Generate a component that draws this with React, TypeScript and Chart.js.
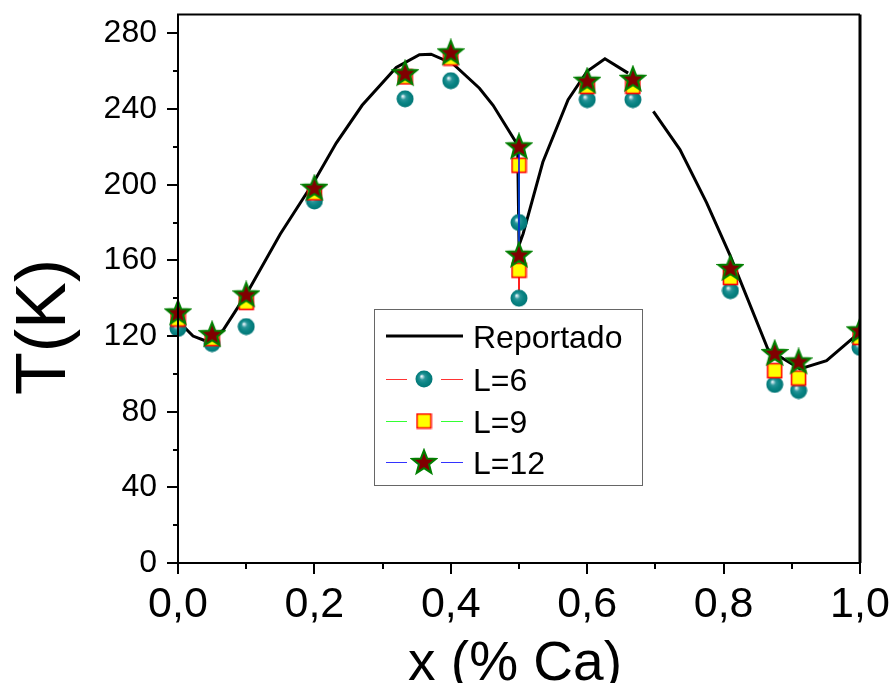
import React, { useEffect, useRef } from "react";
import { Chart, registerables } from "chart.js";

Chart.register(...registerables);

// Reported curve (null = gap in the drawn line)
const repX = [0, 0.022, 0.04, 0.066, 0.1, 0.15, 0.2, 0.232, 0.27, 0.32, 0.354, 0.371, 0.403, 0.442, 0.462, 0.498, 0.5, 0.506, 0.535, 0.572, 0.6, 0.626, 0.66, 0.68, 0.697, 0.736, 0.775, 0.809, 0.865, 0.912, 0.951, 0.99, 1.0];
const repY = [128, 120, 117.5, 123, 142, 174, 202, 222, 242, 262, 268.7, 269, 264, 251, 242, 221, 168, 174, 212, 245, 260, 266.6, 259, null, 238.8, 218.6, 190.5, 163, 113, 102.6, 107, 119, 122];

// Simulated series
const simX = [0, 0.05, 0.1, 0.2, 0.333, 0.4, 0.5, 0.5, 0.6, 0.667, 0.81, 0.875, 0.91, 1.0];
const L6 = [124, 116, 125, 191.4, 245.4, 255, 180, 140, 245, 245, 144, 94.4, 91.2, 114];
const L9 = [129, 118.6, 137.8, 195.7, 257, 267, 210.3, 154.8, 252, 252, 151, 101.7, 97.8, 119.3];
const L12 = [132.5, 121, 142, 198.4, 259, 270, 220.3, 163, 255, 256, 156, 111, 106.6, 123];

const yMajorTicks = [0, 40, 80, 120, 160, 200, 240, 280];
const yMinorTicks = [20, 60, 100, 140, 180, 220, 260];
const xMajorTicks = [0, 0.2, 0.4, 0.6, 0.8, 1.0];
const xMinorTicks = [0.1, 0.3, 0.5, 0.7, 0.9];

const legendLabels = ["Reportado", "L=6", "L=9", "L=12"];
const xTitle = "x (% Ca)";
const yTitle = "T(K)";

const FONT = "'Liberation Sans', Arial, Helvetica, sans-serif";

function makeSphere(d: number) {
  const c = document.createElement("canvas");
  c.width = d; c.height = d;
  const g = c.getContext("2d")!;
  const r = d / 2;
  const grad = g.createRadialGradient(r * 0.72, r * 0.68, 0, r, r, r);
  grad.addColorStop(0, "#ffffff");
  grad.addColorStop(0.12, "#b5dbe2");
  grad.addColorStop(0.32, "#2a9599");
  grad.addColorStop(0.6, "#0b8585");
  grad.addColorStop(1, "#007474");
  g.fillStyle = grad;
  g.beginPath();
  g.arc(r, r, r - 0.5, 0, Math.PI * 2);
  g.fill();
  return c;
}

function makeSquare(d: number) {
  const c = document.createElement("canvas");
  c.width = d; c.height = d;
  const g = c.getContext("2d")!;
  g.fillStyle = "#ffff00";
  g.strokeStyle = "#ff0000";
  g.lineWidth = 1.6;
  g.fillRect(1.5, 1.5, d - 3, d - 3);
  g.strokeRect(1.5, 1.5, d - 3, d - 3);
  return c;
}

function makeStar(d: number) {
  const c = document.createElement("canvas");
  c.width = d; c.height = d;
  const g = c.getContext("2d")!;
  const cx = d / 2, cy = d / 2 + 0.8;
  const R = d / 2 - 1.5, ri = R * 0.43;
  g.beginPath();
  for (let i = 0; i < 10; i++) {
    const rad = i % 2 === 0 ? R : ri;
    const a = -Math.PI / 2 + (i * Math.PI) / 5;
    const px = cx + rad * Math.cos(a), py = cy + rad * Math.sin(a);
    if (i === 0) g.moveTo(px, py); else g.lineTo(px, py);
  }
  g.closePath();
  g.fillStyle = "#800000";
  g.fill();
  g.strokeStyle = "#008000";
  g.lineWidth = 2;
  g.lineJoin = "miter";
  g.stroke();
  return c;
}

export default function App() {
  const ref = useRef<HTMLCanvasElement | null>(null);

  useEffect(() => {
    document.body.style.margin = "0";
    const canvas = ref.current!;
    const sphere = makeSphere(18);
    const square = makeSquare(17);
    const star = makeStar(28);

    const vertOnly = (color: string) => ({
      borderColor: (ctx: any) =>
        ctx.p0.parsed.x === ctx.p1.parsed.x ? color : "rgba(0,0,0,0)",
    });

    const framePlugin = {
      id: "framePlugin",
      afterDraw(chart: any) {
        const { ctx, chartArea: a, scales } = chart;
        const xs = scales.x, ys = scales.y;
        ctx.save();
        ctx.strokeStyle = "#000";
        ctx.lineWidth = 2;
        ctx.beginPath();
        ctx.moveTo(a.left, a.bottom); ctx.lineTo(a.left, a.top);
        ctx.lineTo(a.right, a.top);
        ctx.moveTo(a.left, a.bottom); ctx.lineTo(a.right, a.bottom);
        ctx.stroke();
        ctx.lineWidth = 3;
        ctx.beginPath();
        ctx.moveTo(a.right, a.top); ctx.lineTo(a.right, a.bottom);
        ctx.stroke();
        ctx.lineWidth = 2;
        ctx.beginPath();
        yMajorTicks.forEach((v) => { const y = Math.round(ys.getPixelForValue(v)); ctx.moveTo(a.left, y); ctx.lineTo(a.left - 11, y); });
        yMinorTicks.forEach((v) => { const y = Math.round(ys.getPixelForValue(v)); ctx.moveTo(a.left, y); ctx.lineTo(a.left - 5, y); });
        xMajorTicks.forEach((v) => { const x = Math.round(xs.getPixelForValue(v)); ctx.moveTo(x, a.bottom); ctx.lineTo(x, a.bottom + 11); });
        xMinorTicks.forEach((v) => { const x = Math.round(xs.getPixelForValue(v)); ctx.moveTo(x, a.bottom); ctx.lineTo(x, a.bottom + 6); });
        ctx.stroke();

        // axis titles
        ctx.fillStyle = "#000";
        ctx.textAlign = "center";
        ctx.textBaseline = "alphabetic";
        ctx.font = `55px ${FONT}`;
        ctx.fillText(xTitle, 515, 680);
        ctx.save();
        ctx.translate(65, 327);
        ctx.rotate(-Math.PI / 2);
        ctx.font = `70px ${FONT}`;
        ctx.fillText(yTitle, 0, 0);
        ctx.restore();

        // legend
        const bx = 374.5, by = 309.5, bw = 268, bh = 176;
        ctx.fillStyle = "#fff";
        ctx.fillRect(bx, by, bw, bh);
        ctx.strokeStyle = "#666";
        ctx.lineWidth = 1;
        ctx.strokeRect(bx, by, bw, bh);
        const rows = [336, 379, 421, 462];
        const lineColors = ["#000", "#ff3333", "#33ff33", "#3333ff"];
        const marks = [null, sphere, square, star];
        rows.forEach((ry, i) => {
          if (i === 0) {
            ctx.strokeStyle = "#000";
            ctx.lineWidth = 3;
            ctx.beginPath(); ctx.moveTo(386, ry); ctx.lineTo(463, ry); ctx.stroke();
          } else {
            ctx.strokeStyle = lineColors[i];
            ctx.lineWidth = 1;
            ctx.beginPath();
            ctx.moveTo(386, ry + 0.5); ctx.lineTo(407, ry + 0.5);
            ctx.moveTo(441, ry + 0.5); ctx.lineTo(463, ry + 0.5);
            ctx.stroke();
            const m = marks[i]!;
            ctx.drawImage(m, 424 - m.width / 2, ry - m.height / 2);
          }
          ctx.fillStyle = "#000";
          ctx.textAlign = "left";
          ctx.font = `32px ${FONT}`;
          ctx.fillText(legendLabels[i], 473, ry + 11.5);
        });
        ctx.restore();
      },
    };

    const chart = new Chart(canvas, {
      type: "line",
      data: {
        datasets: [
          {
            label: legendLabels[0],
            data: repX.map((x, i) => ({ x, y: repY[i] })),
            borderColor: "#000",
            borderWidth: 3,
            pointRadius: 0,
            spanGaps: false,
            tension: 0,
            order: 4,
          },
          {
            label: legendLabels[1],
            data: simX.map((x, i) => ({ x, y: L6[i] })),
            borderColor: "#ff0000",
            borderWidth: 1,
            segment: vertOnly("#ff0000"),
            pointStyle: sphere,
            pointRadius: 9,
            order: 3,
            clip: { left: 20, top: 20, right: 0, bottom: 20 },
          },
          {
            label: legendLabels[2],
            data: simX.map((x, i) => ({ x, y: L9[i] })),
            borderColor: "#00ff00",
            borderWidth: 1,
            segment: vertOnly("#00ff00"),
            pointStyle: square,
            pointRadius: 8,
            order: 2,
            clip: { left: 20, top: 20, right: 0, bottom: 20 },
          },
          {
            label: legendLabels[3],
            data: simX.map((x, i) => ({ x, y: L12[i] })),
            borderColor: "#0000ff",
            borderWidth: 1.5,
            segment: vertOnly("#0000ff"),
            pointStyle: star,
            pointRadius: 13,
            order: 1,
            clip: { left: 20, top: 20, right: 0, bottom: 20 },
          },
        ] as any,
      },
      options: {
        responsive: false,
        animation: false,
        events: [],
        layout: { padding: { left: 0, top: 13, right: 32, bottom: 0 } },
        plugins: { legend: { display: false }, tooltip: { enabled: false } },
        scales: {
          x: {
            type: "linear",
            min: 0,
            max: 1,
            grid: { display: false, drawTicks: false },
            border: { display: false },
            ticks: {
              stepSize: 0.2,
              padding: 16,
              color: "#000",
              font: { family: FONT, size: 43 },
              maxRotation: 0,
              autoSkip: false,
              callback: (v: any) => Number(v).toFixed(1).replace(".", ","),
            },
            afterFit: (s: any) => {
              s.height = 120;
              s.paddingLeft = 0; s.paddingRight = 0; s.paddingTop = 0; s.paddingBottom = 0;
            },
          },
          y: {
            type: "linear",
            min: 0,
            max: 290,
            grid: { display: false, drawTicks: false },
            border: { display: false },
            ticks: {
              stepSize: 40,
              includeBounds: false,
              padding: 21,
              color: "#000",
              font: { family: FONT, size: 32 },
            },
            afterBuildTicks: (s: any) => { s.ticks = yMajorTicks.map((v) => ({ value: v })); },
            afterFit: (s: any) => {
              s.width = 178;
              s.paddingLeft = 0; s.paddingRight = 0; s.paddingTop = 0; s.paddingBottom = 0;
            },
          },
        },
      } as any,
      plugins: [framePlugin],
    });
    return () => chart.destroy();
  }, []);

  return <canvas ref={ref} width={892} height={683} style={{ display: "block" }} />;
}
